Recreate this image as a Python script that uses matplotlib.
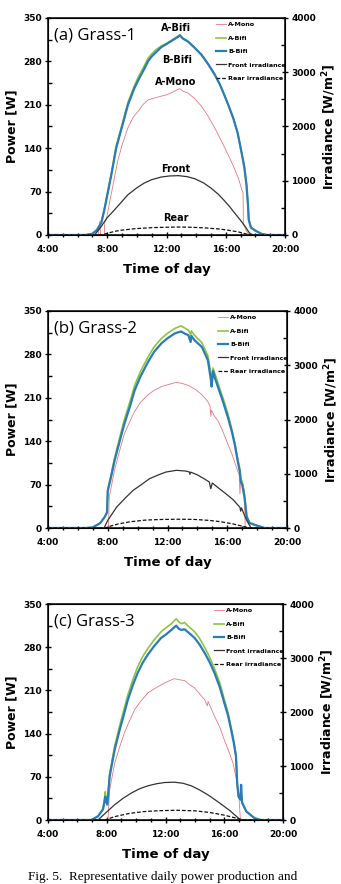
import matplotlib
matplotlib.use("Agg")
import matplotlib.pyplot as plt
from matplotlib.ticker import MultipleLocator, FuncFormatter
from matplotlib.lines import Line2D

# =============================
# Data (hours of day, W and W/m2)
# =============================

# (a) Grass-1
t_bifi_a = [4, 6.5, 7.0, 7.3, 7.6, 7.8, 8.05, 8.3, 8.6, 9.0, 9.4, 9.8, 10.1, 10.5, 10.75, 11.0,
            11.3, 11.65, 12.0, 12.4, 12.8, 12.9, 13.1, 13.45, 13.9, 14.35, 14.8, 15.25, 15.6, 15.9,
            16.2, 16.5, 16.8, 17.05, 17.25, 17.4, 17.5, 17.55, 17.7, 18.0, 18.4, 18.8, 20]
b_bifi_a = [0, 0, 2, 8, 20, 40, 70, 100, 140, 175, 210, 235, 250, 268, 280, 288, 295, 303, 308,
            314, 320, 322, 317, 312, 302, 291, 276, 259, 243, 226, 208, 189, 165, 135, 110, 81,
            49, 25, 12, 7, 2, 0, 0]
a_bifi_a = [0, 0, 2, 8, 20, 41, 72, 102, 143, 178, 214, 239, 255, 273, 285, 292, 299, 305, 309,
            315, 321, 323, 317, 312, 302, 291, 276, 259, 243, 226, 208, 189, 165, 135, 110, 81,
            49, 25, 12, 7, 2, 0, 0]
t_mono_a = [4, 7.4, 7.5, 7.55, 7.8, 7.83, 7.95, 8.3, 8.7, 9.0, 9.4, 9.75, 10.1, 10.4, 10.75,
            11.2, 11.65, 12.0, 12.4, 12.7, 12.9, 13.1, 13.45, 13.9, 14.35, 14.8, 15.25, 15.7,
            16.15, 16.5, 16.85, 17.1, 17.17, 17.19, 17.4, 17.6, 20]
a_mono_a = [0, 0, 22, 0, 0, 20, 27, 70, 119, 145, 173, 190, 200, 210, 218, 221, 224, 226, 230,
            234, 236, 232, 229, 220, 208, 192, 173, 152, 130, 112, 92, 72, 68, 18, 6, 0, 0]
t_front_a = [4, 7.15, 7.6, 8.0, 8.5, 9.0, 9.4, 10.0, 10.5, 11.0, 11.65, 12.2, 12.8, 13.4, 13.9,
             14.5, 15.0, 15.5, 15.95, 16.3, 16.6, 17.0, 17.3, 17.6, 17.85, 20]
front_a = [0, 0, 160, 320, 467, 620, 743, 870, 958, 1020, 1069, 1088, 1094, 1075, 1038, 960,
           866, 750, 620, 510, 405, 270, 160, 37, 0, 0]
t_rear_a = [4, 7.6, 8.0, 8.5, 9.0, 9.9, 11.0, 12.0, 12.8, 13.5, 14.5, 15.5, 16.0, 16.8, 17.3, 17.6, 20]
rear_a = [0, 0, 30, 68, 90, 117, 135, 143, 147, 144, 133, 112, 95, 60, 25, 0, 0]

# (b) Grass-2
t_bifi_b = [4, 6.5, 7.0, 7.5, 7.8, 7.95, 8.0, 8.2, 8.45, 8.8, 9.1, 9.5, 9.8, 10.2, 10.7, 11.1,
            11.6, 12.0, 12.5, 12.9, 13.2, 13.4, 13.55, 13.6, 13.8, 14.3, 14.7, 14.9, 14.95, 15.05,
            15.2, 15.4, 15.7, 16.05, 16.3, 16.5, 16.7, 16.85, 16.9, 17.0, 17.15, 17.3, 17.5,
            17.85, 18.5, 20]
b_bifi_b = [0, 0, 1, 8, 18, 25, 60, 80, 108, 140, 167, 197, 222, 245, 268, 284, 298, 306, 314,
            317, 313, 311, 300, 310, 303, 292, 271, 240, 228, 253, 240, 226, 205, 178, 156, 135,
            108, 90, 75, 70, 50, 18, 8, 5, 0, 0]
a_bifi_b = [0, 0, 1, 8, 18, 25, 62, 83, 112, 146, 174, 205, 230, 253, 276, 292, 306, 314, 322,
            326, 322, 319, 312, 318, 311, 299, 278, 250, 238, 258, 247, 232, 211, 184, 160, 138,
            112, 94, 80, 75, 55, 20, 8, 5, 0, 0]
t_mono_b = [4, 8.05, 8.1, 8.2, 8.45, 8.8, 9.1, 9.5, 9.8, 10.2, 10.7, 11.1, 11.6, 12.0, 12.6,
            13.0, 13.4, 13.9, 14.3, 14.7, 14.85, 14.9, 14.95, 15.1, 15.4, 15.7, 16.05, 16.3,
            16.6, 16.8, 16.85, 16.9, 17.05, 17.15, 17.2, 20]
a_mono_b = [0, 0, 50, 62, 93, 125, 151, 173, 188, 203, 215, 222, 228, 231, 235, 233, 230, 223,
            215, 204, 196, 180, 190, 182, 172, 156, 135, 120, 99, 85, 55, 80, 70, 60, 0, 0]
t_front_b = [4, 7.75, 8.0, 8.6, 9.2, 9.7, 10.3, 10.8, 11.4, 11.9, 12.6, 13.2, 13.45, 13.5, 13.55,
             14.0, 14.5, 14.8, 14.85, 14.9, 15.0, 15.4, 15.9, 16.4, 16.85, 16.9, 16.95, 17.3, 17.6, 20]
front_b = [0, 0, 140, 387, 560, 694, 810, 909, 980, 1032, 1063, 1050, 1035, 990, 1030, 980, 900,
           848, 780, 725, 830, 740, 633, 520, 380, 310, 370, 141, 0, 0]
t_rear_b = [4, 7.8, 8.2, 8.7, 9.5, 10.5, 11.5, 12.8, 13.8, 14.8, 15.5, 16.3, 17.0, 17.5, 20]
rear_b = [0, 0, 35, 75, 115, 145, 157, 162, 158, 140, 118, 80, 35, 0, 0]

# (c) Grass-3
t_bifi_c = [4, 6.95, 7.4, 7.74, 7.85, 7.9, 7.97, 8.04, 8.2, 8.54, 8.88, 9.1, 9.44, 9.8, 10.1,
            10.45, 10.8, 11.2, 11.7, 12.0, 12.4, 12.73, 12.9, 13.07, 13.3, 13.6, 13.98, 14.3,
            14.66, 15.0, 15.34, 15.7, 16.0, 16.25, 16.47, 16.65, 16.8, 16.88, 16.97, 17.1, 17.15,
            17.18, 17.22, 17.5, 18.06, 18.5, 20]
b_bifi_c = [0, 0, 6, 17, 30, 38, 30, 25, 71, 114, 146, 165, 195, 220, 238, 255, 268, 281, 295,
            300, 308, 315, 310, 308, 309, 303, 295, 285, 271, 256, 238, 215, 190, 170, 146, 125,
            103, 60, 38, 33, 57, 40, 28, 14, 3, 0, 0]
a_bifi_c = [0, 0, 6, 18, 35, 46, 32, 27, 75, 120, 153, 173, 203, 229, 248, 265, 278, 291, 305,
            311, 318, 326, 321, 318, 320, 313, 305, 295, 280, 264, 245, 222, 196, 175, 150, 128,
            105, 60, 38, 33, 50, 40, 28, 14, 3, 0, 0]
t_mono_c = [4, 8.08, 8.2, 8.54, 8.9, 9.2, 9.5, 9.9, 10.3, 10.8, 11.2, 11.7, 12.2, 12.6, 13.0,
            13.3, 13.6, 13.98, 14.3, 14.66, 14.85, 14.9, 15.34, 15.7, 16.0, 16.3, 16.6, 16.88,
            17.0, 17.04, 17.1, 20]
a_mono_c = [0, 0, 49, 92, 120, 141, 158, 179, 192, 206, 212, 219, 225, 229, 227, 226, 220, 214,
            205, 195, 185, 192, 168, 150, 130, 112, 92, 60, 40, 22, 0, 0]
t_front_c = [4, 7.4, 8.0, 8.54, 9.1, 9.67, 10.2, 10.8, 11.4, 11.94, 12.6, 13.2, 13.75, 14.3,
             14.88, 15.4, 16.0, 16.4, 16.7, 17.04, 17.3, 20]
front_c = [0, 0, 150, 283, 400, 498, 575, 633, 672, 694, 700, 680, 633, 560, 467, 370, 252, 170,
           98, 18, 0, 0]
t_rear_c = [4, 7.9, 8.5, 9.5, 10.5, 11.5, 12.7, 14.0, 15.0, 16.0, 16.8, 17.2, 20]
rear_c = [0, 0, 60, 120, 155, 172, 180, 170, 140, 90, 35, 0, 0]

titles = ["(a) Grass-1", "(b) Grass-2", "(c) Grass-3"]
legend_labels = ["A-Mono", "A-Bifi", "B-Bifi", "Front irradiance", "Rear irradiance"]

# =============================
# Styles
# =============================
C_MONO = "#e8797c"
C_ABIFI = "#8cc63f"
C_BBIFI = "#2b7bb9"
C_FRONT = "#333333"
C_REAR = "#111111"

plt.rcParams["font.family"] = ["DejaVu Sans"]

fig = plt.figure(figsize=(3.41, 8.84), dpi=100)

# axes boxes in pixels: (left, right, top, bottom)
boxes = [(48, 285, 18, 235), (48, 287, 311, 528), (48, 283, 604, 820)]
W, H = 341, 884

panels = [
    (t_bifi_a, a_bifi_a, b_bifi_a, t_mono_a, a_mono_a, t_front_a, front_a, t_rear_a, rear_a),
    (t_bifi_b, a_bifi_b, b_bifi_b, t_mono_b, a_mono_b, t_front_b, front_b, t_rear_b, rear_b),
    (t_bifi_c, a_bifi_c, b_bifi_c, t_mono_c, a_mono_c, t_front_c, front_c, t_rear_c, rear_c),
]

for i, (box, data) in enumerate(zip(boxes, panels)):
    l, r, t, b = box
    ax = fig.add_axes([l / W, 1 - b / H, (r - l) / W, (b - t) / H])
    tb, ab, bb, tm, am, tf, fr, tr, rr = data

    ax.plot(tm, am, color=C_MONO, lw=0.6, zorder=2)
    ax.plot(tb, ab, color=C_ABIFI, lw=1.2, zorder=3)
    ax.plot(tb, bb, color=C_BBIFI, lw=1.6, zorder=4)

    ax.set_xlim(4, 20)
    ax.set_ylim(0, 350)
    ax.xaxis.set_major_locator(MultipleLocator(4))
    ax.xaxis.set_minor_locator(MultipleLocator(1))
    ax.xaxis.set_major_formatter(FuncFormatter(lambda v, p: f"{int(v)}:00"))
    ax.yaxis.set_major_locator(MultipleLocator(70))
    ax.yaxis.set_minor_locator(MultipleLocator(35))
    ax.tick_params(axis="x", which="major", direction="inout", length=5, width=1, labelsize=6.5, pad=5)
    ax.tick_params(axis="x", which="minor", direction="inout", length=3.5, width=1)
    ax.tick_params(axis="y", which="major", direction="inout", length=5, width=1, labelsize=6.5, pad=2)
    ax.tick_params(axis="y", which="minor", direction="in", length=3, width=1)
    for lab in ax.get_xticklabels() + ax.get_yticklabels():
        lab.set_fontweight("bold")
    for s in ax.spines.values():
        s.set_linewidth(1.1)
    ax.set_xlabel("Time of day", fontsize=9.5, fontweight="bold", labelpad=6)
    ax.set_ylabel("Power [W]", fontsize=9, fontweight="bold", labelpad=3)

    ax2 = ax.twinx()
    ax2.plot(tf, fr, color=C_FRONT, lw=0.9, zorder=5)
    ax2.plot(tr, rr, color=C_REAR, lw=0.9, ls=(0, (3, 1.5)), zorder=5)
    ax2.set_ylim(0, 4000)
    ax2.yaxis.set_major_locator(MultipleLocator(1000))
    ax2.yaxis.set_minor_locator(MultipleLocator(500))
    ax2.tick_params(axis="y", which="major", direction="inout", length=5, width=1, labelsize=6.5, pad=2)
    ax2.tick_params(axis="y", which="minor", direction="in", length=3, width=1)
    for lab in ax2.get_yticklabels():
        lab.set_fontweight("bold")
    ax2.set_ylabel("Irradiance [W/m$\\mathbf{^2}$]", fontsize=9, fontweight="bold", labelpad=3)

    ax.text(0.025, 0.92, titles[i], transform=ax.transAxes, fontsize=12,
            ha="left", va="center", family=["Open Sans", "DejaVu Sans"])

    handles = [Line2D([], [], color=C_MONO, lw=0.6),
               Line2D([], [], color=C_ABIFI, lw=1.2),
               Line2D([], [], color=C_BBIFI, lw=1.6),
               Line2D([], [], color=C_FRONT, lw=0.9),
               Line2D([], [], color=C_REAR, lw=0.9, ls=(0, (3, 1.5)))]
    leg = ax2.legend(handles, legend_labels, loc="upper right", bbox_to_anchor=(1.02, 1.0),
                     frameon=False, fontsize=4.6, handlelength=1.6, handletextpad=0.3,
                     labelspacing=1.25, borderaxespad=0.2)
    for txt in leg.get_texts():
        txt.set_fontweight("bold")

    if i == 0:
        for label, x, y in [("A-Bifi", 12.64, 334), ("B-Bifi", 12.7, 282), ("A-Mono", 12.64, 246),
                            ("Front", 12.64, 106), ("Rear", 12.64, 27)]:
            ax.text(x, y, label, ha="center", va="center", fontsize=7, fontweight="bold", zorder=6)

# caption fragment at the bottom edge
fig.text(28 / W, 1 - 883 / H, "Fig. 5.  Representative daily power production and",
         fontsize=9.5, va="bottom", ha="left", family=["Liberation Serif", "DejaVu Serif"])

fig.savefig("out.png", dpi=100)
